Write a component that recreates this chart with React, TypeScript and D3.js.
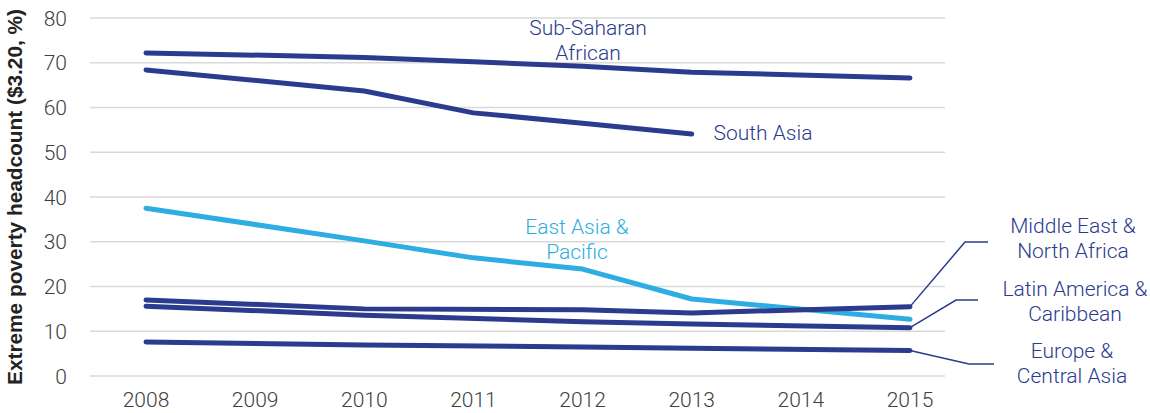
import React from "react";
import * as d3 from "d3";

const years = [2008, 2009, 2010, 2011, 2012, 2013, 2014, 2015];
const yTicks = [0, 10, 20, 30, 40, 50, 60, 70, 80];

const subSaharanYears = [2008, 2010, 2011, 2012, 2013, 2015];
const subSaharan = [72.2, 71.2, 70.2, 69.2, 67.9, 66.6];
const southAsiaYears = [2008, 2010, 2011, 2012, 2013];
const southAsia = [68.4, 63.7, 58.8, 56.5, 54.1];
const eastAsiaYears = [2008, 2010, 2011, 2012, 2013, 2015];
const eastAsia = [37.5, 30.2, 26.4, 23.9, 17.2, 12.7];
const menaYears = [2008, 2010, 2012, 2013, 2015];
const mena = [17.0, 15.0, 14.8, 14.1, 15.5];
const latamYears = [2008, 2010, 2012, 2013, 2015];
const latam = [15.6, 13.6, 12.1, 11.6, 10.8];
const europeYears = [2008, 2010, 2012, 2013, 2015];
const europe = [7.6, 6.9, 6.5, 6.2, 5.7];

const DARK = "#2b3b8e";
const LIGHT = "#2eade3";
const FONT = "Roboto, 'Liberation Sans', Arial, sans-serif";

export default function App() {
  const width = 1150;
  const height = 413;
  const x = d3.scaleLinear().domain([2008, 2015]).range([146, 910]);
  const y = d3.scaleLinear().domain([0, 80]).range([376, 18]);
  const gridLeft = 90;
  const gridRight = 945;

  const line = d3
    .line<[number, number]>()
    .x((d) => x(d[0]))
    .y((d) => y(d[1]));

  const series = [
    { yrs: eastAsiaYears, vals: eastAsia, color: LIGHT },
    { yrs: subSaharanYears, vals: subSaharan, color: DARK },
    { yrs: southAsiaYears, vals: southAsia, color: DARK },
    { yrs: europeYears, vals: europe, color: DARK },
    { yrs: latamYears, vals: latam, color: DARK },
    { yrs: menaYears, vals: mena, color: DARK },
  ];

  const last = (yrs: number[], vals: number[]) => [x(yrs[yrs.length - 1]), y(vals[vals.length - 1])];
  const menaEnd = last(menaYears, mena);
  const latamEnd = last(latamYears, latam);
  const europeEnd = last(europeYears, europe);

  const leaders = [
    { from: menaEnd, mid: [965, 242], to: [988, 242] },
    { from: latamEnd, mid: [956, 300], to: [978, 300] },
    { from: europeEnd, mid: [969, 364], to: [994, 364] },
  ];

  const labels = [
    { lines: ["Sub-Saharan", "African"], x: 588, y: 28, color: DARK },
    { lines: ["South Asia"], x: 763, y: 133, color: DARK },
    { lines: ["East Asia &", "Pacific"], x: 577, y: 227, color: LIGHT },
    { lines: ["Middle East &", "North Africa"], x: 1073, y: 226, color: DARK },
    { lines: ["Latin America &", "Caribbean"], x: 1075, y: 289, color: DARK },
    { lines: ["Europe &", "Central Asia"], x: 1072, y: 351, color: DARK },
  ];

  return (
    <svg
      width={width}
      height={height}
      style={{ position: "absolute", left: 0, top: 0, background: "#fff" }}
      fontFamily={FONT}
    >
      {yTicks.map((t) => (
        <g key={t}>
          <line x1={gridLeft} x2={gridRight} y1={y(t)} y2={y(t)} stroke="#d9d9d9" strokeWidth={1.5} />
          <text x={67} y={y(t)} dy="0.36em" textAnchor="end" fontSize={21} fill="#404040" fontWeight={300}>
            {t}
          </text>
        </g>
      ))}
      {years.map((yr) => (
        <text key={yr} x={x(yr)} y={407} textAnchor="middle" fontSize={21} fill="#404040" fontWeight={300}>
          {yr}
        </text>
      ))}
      <text
        transform={`translate(22, 197) rotate(-90)`}
        textAnchor="middle"
        fontSize={20}
        fontWeight="bold"
        fill="#222"
        fontFamily="'Liberation Sans', Arial, sans-serif"
        textLength={376}
        lengthAdjust="spacingAndGlyphs"
      >
        Extreme poverty headcount ($3.20, %)
      </text>
      {leaders.map((l, i) => (
        <polyline
          key={i}
          points={`${l.from[0]},${l.from[1]} ${l.mid[0]},${l.mid[1]} ${l.to[0]},${l.to[1]}`}
          fill="none"
          stroke={DARK}
          strokeWidth={1.5}
        />
      ))}
      {series.map((s, i) => (
        <path
          key={i}
          d={line(s.yrs.map((yr, j) => [yr, s.vals[j]] as [number, number])) || ""}
          fill="none"
          stroke={s.color}
          strokeWidth={5}
          strokeLinecap="round"
          strokeLinejoin="round"
        />
      ))}
      {labels.map((lb, i) => (
        <text key={i} textAnchor="middle" fontSize={21} fill={lb.color} fontWeight={300}>
          {lb.lines.map((t, j) => (
            <tspan key={j} x={lb.x} y={lb.y + j * 25} dy="0.35em">
              {t}
            </tspan>
          ))}
        </text>
      ))}
    </svg>
  );
}
